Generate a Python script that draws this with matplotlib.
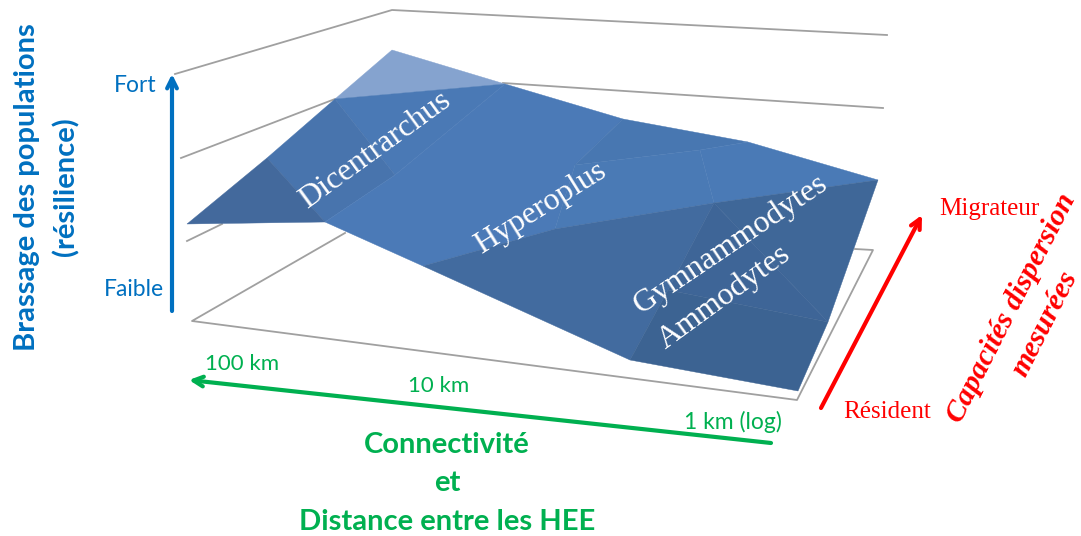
import matplotlib
matplotlib.use('Agg')
import matplotlib.pyplot as plt

# surface nodes
node_x = [187, 392, 505, 623, 748, 878, 828, 798, 630, 423, 325, 335, 267, 395, 555, 714, 575, 700, 668]
node_y = [224, 50, 84, 119, 142, 180, 322, 391, 360, 266, 222, 99, 158, 175, 229, 203, 165, 150, 290]

# facets as node numbers, with their shade
facets = [
    [1, 2, 11],
    [11, 2, 13],
    [12, 11, 13, 10],
    [0, 12, 10],
    [10, 13, 2, 3, 16, 14, 9],
    [3, 4, 17, 16],
    [16, 17, 15, 14],
    [17, 4, 5, 15],
    [9, 14, 15, 18, 8],
    [15, 5, 6],
    [15, 6, 18],
    [18, 6, 7, 8],
]
shades = ['#85a3cf', '#4a79b5', '#4874ad', '#43699c', '#4b7ab7', '#4877b1', '#4a7ab5', '#4a7ab6',
          '#426b9f', '#3f6798', '#3e6597', '#3c6392']

# grey frame lines
back_top_x = [175, 392, 887]
back_top_y = [74, 10, 35]
back_mid_x = [181, 335]
back_mid_y = [158, 99]
back_mid2_x = [503, 883]
back_mid2_y = [83, 108]
back_low_x = [187, 222]
back_low_y = [241, 224]
floor_x = [345, 192, 797, 873, 855]
floor_y = [233, 321, 400, 250, 249]

blue = '#0070c0'
green = '#00b050'
red = '#ff0000'
sans = 'Lato'
serif = 'Liberation Serif'

fig = plt.figure(figsize=(10.81, 5.36), dpi=100)
ax = fig.add_axes([0, 0, 1, 1])
ax.set_xlim(0, 1081)
ax.set_ylim(536, 0)
ax.axis('off')

for xs, ys in [(back_top_x, back_top_y), (back_mid_x, back_mid_y), (back_mid2_x, back_mid2_y),
               (back_low_x, back_low_y), (floor_x, floor_y)]:
    ax.plot(xs, ys, color='#a0a0a0', lw=1.3, zorder=1)

for f, c in zip(facets, shades):
    ax.fill([node_x[i] for i in f], [node_y[i] for i in f], color=c, lw=0.3, zorder=2)

# arrows
for start, end, col in [((172, 311), (172, 74), blue), ((771, 443), (189, 380), green), ((821, 408), (922, 215), red)]:
    ax.annotate('', xy=end, xytext=start, zorder=3,
                arrowprops=dict(arrowstyle='->,head_length=0.7,head_width=0.35', color=col, lw=3,
                                shrinkA=0, shrinkB=0))

def label(x, y, s, col, size, rot=0, fam=sans, **kw):
    ax.text(x, y, s, color=col, fontsize=size, rotation=rot, family=fam, ha='center', va='center',
            rotation_mode='anchor', zorder=4, **kw)

label(27, 187, 'Brassage des populations', blue, 21, 90, weight='bold')
label(66, 187, '(résilience)', blue, 21, 90, weight='bold')
label(135, 86, 'Fort', blue, 16.5)
label(134, 290, 'Faible', blue, 16.5)

label(242, 364, '100 km', green, 16)
label(439, 386, '10 km', green, 16)
label(733, 422, '1 km (log)', green, 16.5)
label(447, 445, 'Connectivité', green, 21, weight='bold')
label(447, 483, 'et', green, 21, weight='bold')
label(447, 522, 'Distance entre les HEE', green, 21, weight='bold')

label(989, 209, 'Migrateur', red, 18, fam=serif)
label(887, 412, 'Résident', red, 18, fam=serif)
label(1011, 308, 'Capacités dispersion', red, 21.5, 63, fam=serif, style='italic', weight='bold')
label(1045, 324, 'mesurées', red, 21.5, 63, fam=serif, style='italic', weight='bold')

label(375, 150, 'Dicentrarchus', 'white', 23, 36, fam=serif)
label(541, 208, 'Hyperoplus', 'white', 23, 32, fam=serif)
label(731, 244, 'Gymnammodytes', 'white', 23, 34, fam=serif)
label(724, 297, 'Ammodytes', 'white', 23, 36, fam=serif)

fig.savefig('out.png', dpi=100)
plt.close(fig)
